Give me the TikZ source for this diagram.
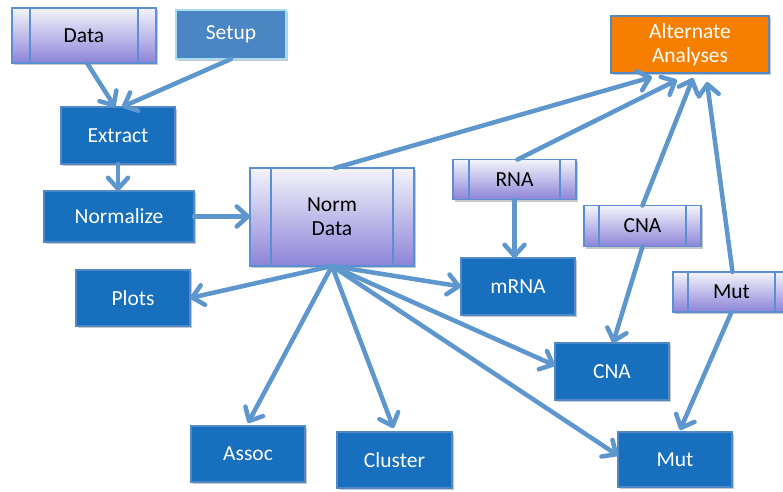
\documentclass[tikz,border=0pt]{standalone}
\usepackage{fontspec}
\setmainfont{Carlito}
\usetikzlibrary{arrows.meta,shadows}
\definecolor{boxblue}{HTML}{176FBE}
\definecolor{boxborder}{HTML}{5088C8}
\definecolor{setupfill}{HTML}{4A86C4}
\definecolor{setupborder}{HTML}{A8DCEA}
\definecolor{altfill}{HTML}{F77F00}
\definecolor{procborder}{HTML}{5B8ED2}
\definecolor{proctop}{HTML}{F4F4FB}
\definecolor{procbot}{HTML}{8C84D8}
\definecolor{arrowblue}{HTML}{5E96CE}
\begin{document}
\begin{tikzpicture}[x=1pt,y=-1pt,
  font=\fontsize{21.5}{24}\selectfont,
  shad/.style={drop shadow={shadow xshift=1.5pt,shadow yshift=-2pt,opacity=0.3,fill=black!70}},
  box/.style 2 args={shad,draw=boxborder,line width=1.3pt,fill=boxblue,text=white,
    inner sep=0pt,outer sep=0pt,minimum width=#1pt,minimum height=#2pt,align=center},
  setupbox/.style={shad,draw=setupborder,line width=1.3pt,fill=setupfill,text=white,
    inner sep=0pt,outer sep=0pt,minimum width=110pt,minimum height=49pt},
  altbox/.style={shad,draw=boxborder,line width=1.3pt,fill=altfill,text=white,
    inner sep=0pt,outer sep=0pt,minimum width=158pt,minimum height=57pt,align=center},
  proc/.style n args={3}{shad,draw=procborder,line width=1.5pt,top color=proctop,bottom color=procbot,
    text=black,inner sep=0pt,outer sep=0pt,minimum width=#1pt,minimum height=#2pt,align=center,
    path picture={
      \draw[procborder,line width=1.5pt] ([xshift=#3pt]path picture bounding box.north west) -- ([xshift=#3pt]path picture bounding box.south west);
      \draw[procborder,line width=1.5pt] ([xshift=-#3pt]path picture bounding box.north east) -- ([xshift=-#3pt]path picture bounding box.south east);}},
  arr/.style={draw=arrowblue,line width=4.5pt,line cap=round,
    -{Straight Barb[length=11pt,width=20pt,round]}}
]
\useasboundingbox (0,0) rectangle (783,491);
\fill[white] (0,0) rectangle (783,491);

% nodes
\node[proc={144}{55}{18}] (data) at (84,35.5) {Data};
\node[setupbox] (setup) at (231,34.5) {Setup};
\node[box={114}{57}] (extract) at (118,135.5) {Extract};
\node[box={150}{51}] (normalize) at (119,216.5) {Normalize};
\node[box={114}{56}] (plots) at (133,298) {Plots};
\node[proc={164}{98}{21}] (normdata) at (332,217) {Norm\\Data};
\node[proc={123}{40}{16}] (rna) at (514.5,179.5) {RNA};
\node[box={114}{57}] (mrna) at (518,286.5) {mRNA};
\node[altbox] (alt) at (690,44.5) {Alternate\\Analyses};
\node[proc={117}{41}{15}] (cnap) at (642.5,226) {CNA};
\node[proc={117}{40}{15}] (mutp) at (731.5,292) {Mut};
\node[box={114}{57}] (cna) at (612,371.5) {CNA};
\node[box={114}{55}] (mut) at (675,459.5) {Mut};
\node[box={114}{56}] (assoc) at (248,454) {Assoc};
\node[box={115}{56}] (cluster) at (394.5,460) {Cluster};

% connectors
\draw[arr] ([xshift=3pt]data.south) -- ([xshift=-3pt]extract.north);
\draw[arr] (setup.south) -- ([xshift=4pt]extract.north);
\draw[arr] (extract.south) -- (extract.south |- normalize.north);
\draw[arr] (normalize.east) -- (normalize.east -| normdata.west);
\draw[arr] ([xshift=3pt]normdata.north) -- ([shift={(-38,4)}]alt.south);
\draw[arr] ([xshift=3pt]rna.north) -- ([shift={(-13,7)}]alt.south);
\draw[arr] (cnap.north) -- ([shift={(3,5)}]alt.south);
\draw[arr] ([xshift=1pt]mutp.north) -- ([shift={(17,9)}]alt.south);
\draw[arr] (rna.south) -- (rna.south |- mrna.north);
\draw[arr] (cnap.south) -- ([xshift=1pt]cna.north);
\draw[arr] (mutp.south) -- ([shift={(5,-2)}]mut.north);
\draw[arr] (normdata.south) -- (plots.east);
\draw[arr] (normdata.south) -- (mrna.west);
\draw[arr] (normdata.south) -- ([shift={(0,-6)}]cna.west);
\draw[arr] (normdata.south) -- ([shift={(0,-4)}]mut.west);
\draw[arr] (normdata.south) -- ([shift={(0,-3)}]assoc.north);
\draw[arr] (normdata.south) -- ([shift={(-1,-4)}]cluster.north);
\end{tikzpicture}
\end{document}
